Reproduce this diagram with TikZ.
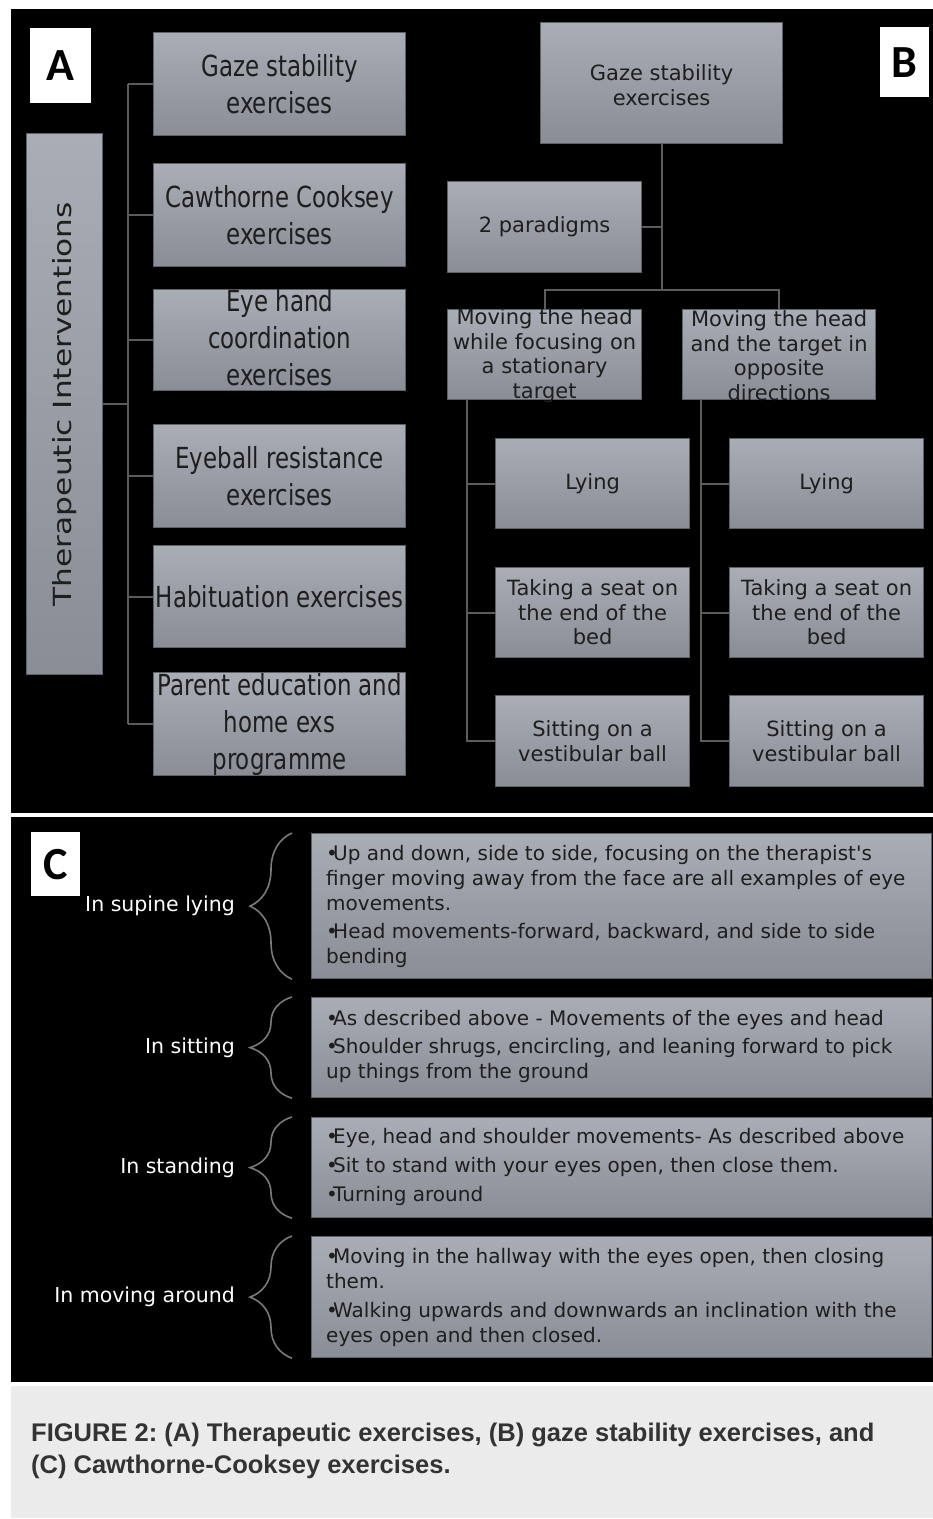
\documentclass[tikz,border=0pt]{standalone}
\usepackage{fontspec}
\setmainfont{DejaVu Sans}
\newfontfamily\condf[FakeStretch=0.79]{DejaVu Sans}
\newfontfamily\widef[FakeStretch=1.25]{DejaVu Sans}
\newfontfamily\capf{Liberation Sans}
\newfontfamily\labf{Carlito}
\usetikzlibrary{decorations.pathreplacing,shadings}
\definecolor{boxtop}{HTML}{A9ADB5}
\definecolor{boxbot}{HTML}{898D95}
\definecolor{boxline}{HTML}{5E6166}
\definecolor{lineg}{HTML}{5C5C5C}
\definecolor{txt}{HTML}{1E1E1E}
\definecolor{capbg}{HTML}{EBEBEB}
\definecolor{captxt}{HTML}{333333}
\definecolor{bracec}{HTML}{7A7A7A}
\newcommand{\bul}{\makebox[7pt][l]{•}}
\frenchspacing
\begin{document}
\begin{tikzpicture}[x=1pt,y=-1pt,
  gbox/.style={draw=boxline, line width=1.2pt, top color=boxtop, bottom color=boxbot, inner sep=0pt, anchor=north west},
  labbox/.style={fill=white, inner sep=0pt, anchor=north west, font=\labf\bfseries\fontsize{46}{46}\selectfont, text=black},
  atext/.style={font=\condf\fontsize{29}{37}\selectfont, text=txt, align=center, inner sep=0pt},
  btext/.style={font=\fontsize{21}{24.5}\selectfont, text=txt, align=center, inner sep=0pt},
  ctext/.style={font=\fontsize{20}{25}\selectfont, text=txt, align=left, inner sep=0pt, anchor=north west},
  clabel/.style={font=\fontsize{20.5}{25}\selectfont, text=white, inner sep=0pt, anchor=east},
  captext/.style={anchor=base west, inner sep=0pt, font=\capf\bfseries\fontsize{25.5}{32}\selectfont, text=captxt},
  link/.style={draw=lineg, line width=2pt},
  cbrace/.style={draw=bracec, line width=1.6pt, decorate, decoration={brace, amplitude=42pt}}
]
% backgrounds
\fill[white] (0,0) rectangle (933,1519);
\fill[black] (11,9) rectangle (933,813);
\fill[black] (11,817) rectangle (933,1382);
\fill[capbg] (11,1386) rectangle (933,1518);

% ---------------- Panel A ----------------
\node[labbox, minimum width=61pt, minimum height=75pt] (labA) at (30,28) {A};
\node[gbox, minimum width=76pt, minimum height=541pt] (ther) at (26,133) {};
\node[rotate=90, font=\widef\fontsize{25}{30}\selectfont, text=txt, inner sep=0pt] (thert) at (ther.center) {Therapeutic Interventions};

\node[gbox, minimum width=252pt, minimum height=103pt] (a1) at (153,32) {};
\node[gbox, minimum width=252pt, minimum height=103pt] (a2) at (153,163) {};
\node[gbox, minimum width=252pt, minimum height=101pt] (a3) at (153,289) {};
\node[gbox, minimum width=252pt, minimum height=103pt] (a4) at (153,424) {};
\node[gbox, minimum width=252pt, minimum height=102pt] (a5) at (153,545) {};
\node[gbox, minimum width=252pt, minimum height=103pt] (a6) at (153,672) {};

\node[atext] (a1t) at (a1.center) {Gaze stability\\exercises};
\node[atext] (a2t) at (a2.center) {Cawthorne Cooksey\\exercises};
\node[atext] (a3t) at ([yshift=2pt]a3.center) {Eye hand\\coordination\\exercises};
\node[atext] (a4t) at (a4.center) {Eyeball resistance\\exercises};
\node[atext] (a5t) at (a5.center) {Habituation exercises};
\node[atext] (a6t) at (a6.center) {Parent education and\\home exs\\programme};

\coordinate (sA) at ([xshift=25pt]ther.east);
\draw[link] (ther.east) -- (sA);
\draw[link] (a1.west -| sA) -- (a6.west -| sA);
\foreach \n in {a1,a2,a3,a4,a5,a6} \draw[link] (\n.west) -- (\n.west -| sA);

% ---------------- Panel B ----------------
\node[labbox, minimum width=49pt, minimum height=70pt] (labB) at (880,27) {B};
\node[gbox, minimum width=242pt, minimum height=121pt] (g) at (540,22) {};
\node[gbox, minimum width=194pt, minimum height=91pt] (p2) at (447,181) {};
\node[gbox, minimum width=194pt, minimum height=90pt] (m1) at (447,309) {};
\node[gbox, minimum width=193pt, minimum height=90pt] (m2) at (682,309) {};
\node[gbox, minimum width=194pt, minimum height=90pt] (l1) at (495,438) {};
\node[gbox, minimum width=194pt, minimum height=90pt] (s1) at (495,567) {};
\node[gbox, minimum width=194pt, minimum height=91pt] (v1) at (495,695) {};
\node[gbox, minimum width=194pt, minimum height=90pt] (l2) at (729,438) {};
\node[gbox, minimum width=194pt, minimum height=90pt] (s2) at (729,567) {};
\node[gbox, minimum width=194pt, minimum height=91pt] (v2) at (729,695) {};

\node[btext] (gt) at ([yshift=-2pt]g.center) {Gaze stability\\exercises};
\node[btext] (p2t) at (p2.center) {2 paradigms};
\node[btext] (m1t) at ([yshift=-1pt]m1.center) {Moving the head\\while focusing on\\a stationary\\target};
\node[btext] (m2t) at ([yshift=-1pt]m2.center) {Moving the head\\and the target in\\opposite\\directions};
\node[btext] (l1t) at (l1.center) {Lying};
\node[btext] (s1t) at (s1.center) {Taking a seat on\\the end of the\\bed};
\node[btext] (v1t) at (v1.center) {Sitting on a\\vestibular ball};
\node[btext] (l2t) at (l2.center) {Lying};
\node[btext] (s2t) at (s2.center) {Taking a seat on\\the end of the\\bed};
\node[btext] (v2t) at (v2.center) {Sitting on a\\vestibular ball};

\coordinate (jB) at (g.south |- 0,290);
\draw[link] (g.south) -- (jB);
\draw[link] (p2.east) -- (p2.east -| jB);
\draw[link] (m1.north) |- (jB) -| (m2.north);
\coordinate (sL) at ([xshift=20pt]m1.south west);
\coordinate (sR) at ([xshift=19pt]m2.south west);
\draw[link] (sL) |- (v1.west);
\draw[link] (l1.west) -- (l1.west -| sL);
\draw[link] (s1.west) -- (s1.west -| sL);
\draw[link] (sR) |- (v2.west);
\draw[link] (l2.west) -- (l2.west -| sR);
\draw[link] (s2.west) -- (s2.west -| sR);

% ---------------- Panel C ----------------
\node[labbox, minimum width=49pt, minimum height=64pt] (labC) at (31,832) {C};
\node[gbox, minimum width=620pt, minimum height=145pt] (c1) at (311,833) {};
\node[gbox, minimum width=620pt, minimum height=100pt] (c2) at (311,997) {};
\node[gbox, minimum width=620pt, minimum height=100pt] (c3) at (311,1117) {};
\node[gbox, minimum width=620pt, minimum height=121pt] (c4) at (311,1236) {};

\node[ctext] (c1t) at (326,845) {\bul Up and down, side to side, focusing on the therapist\textquotesingle s\\finger moving away from the face are all examples of eye\\movements.\\[3pt]\bul Head movements-forward, backward, and side to side\\bending};
\node[ctext] (c2t) at (326,1010) {\bul As described above - Movements of the eyes and head\\[3pt]\bul Shoulder shrugs, encircling, and leaning forward to pick\\up things from the ground};
\node[ctext] (c3t) at (326,1128) {\bul Eye, head and shoulder movements- As described above\\[4pt]\bul Sit to stand with your eyes open, then close them.\\[4pt]\bul Turning around};
\node[ctext] (c4t) at (326,1248) {\bul Moving in the hallway with the eyes open, then closing\\them.\\[4pt]\bul Walking upwards and downwards an inclination with the\\eyes open and then closed.};

\foreach \n in {c1,c2,c3,c4}
  \draw[cbrace] ([xshift=-19pt]\n.south west) -- ([xshift=-19pt]\n.north west);

\node[clabel] (lab1) at ([xshift=-76pt]c1.west) {In supine lying};
\node[clabel] (lab2) at ([xshift=-76pt]c2.west) {In sitting};
\node[clabel] (lab3) at ([xshift=-76pt]c3.west) {In standing};
\node[clabel] (lab4) at ([xshift=-76pt]c4.west) {In moving around};

% ---------------- Caption ----------------
\node[captext] (cap1) at (31,1441) {FIGURE 2: (A) Therapeutic exercises, (B) gaze stability exercises, and};
\node[captext] (cap2) at (31,1473) {(C) Cawthorne-Cooksey exercises.};
\end{tikzpicture}
\end{document}
